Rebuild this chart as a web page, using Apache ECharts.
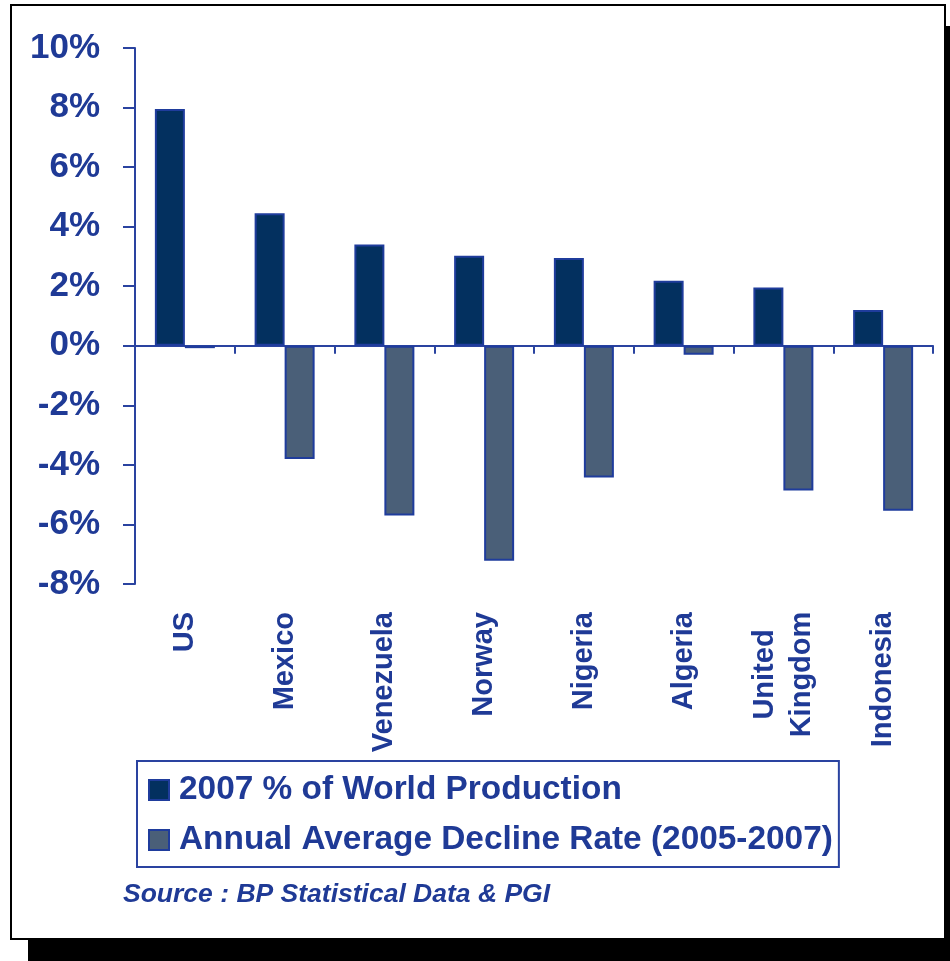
<!DOCTYPE html>
<html>
<head>
<meta charset="utf-8">
<script src="https://cdn.jsdelivr.net/npm/echarts@6/dist/echarts.min.js"></script>
<style>
html,body{margin:0;padding:0;background:#fff;width:950px;height:961px;overflow:hidden;}
#frame{position:absolute;left:10px;top:4px;width:932px;height:932px;border:2px solid #000;box-shadow:18px 22px 0 #000;background:#fff;}
#chart{position:absolute;left:0;top:0;width:950px;height:961px;}
</style>
</head>
<body>
<div id="frame"></div>
<div id="chart"></div>
<script>
const categories = ['US','Mexico','Venezuela','Norway','Nigeria','Algeria','United\nKingdom','Indonesia'];
const seriesNames = ['2007 % of World Production','Annual Average Decline Rate (2005-2007)'];
const production = [7.95, 4.45, 3.4, 3.02, 2.95, 2.18, 1.96, 1.2];
const decline = [-0.08, -3.8, -5.7, -7.22, -4.42, -0.3, -4.86, -5.54];
const yTicks = {min: -8, max: 10, interval: 2};
const sourceText = 'Source : BP Statistical Data & PGI';

const BLUE = '#1f3a96';
const AXIS = '#2a43a0';
const FONT = '"Liberation Sans", Arial, Helvetica, sans-serif';

const chart = echarts.init(document.getElementById('chart'), null, {renderer: 'canvas'});
chart.setOption({
  backgroundColor: 'transparent',
  animation: false,
  title: {
    text: sourceText,
    left: 118, top: 876,
    textStyle: {fontFamily: FONT, fontSize: 26.5, fontStyle: 'italic', fontWeight: 'bold', color: BLUE}
  },
  grid: {left: 135, right: 17, top: 48, bottom: 377, containLabel: false},
  legend: {
    orient: 'vertical',
    left: 137, top: 761,
    icon: 'rect',
    itemWidth: 20, itemHeight: 20,
    itemGap: 10,
    padding: [9, 6, 7, 11],
    borderColor: AXIS, borderWidth: 2,
    textStyle: {fontFamily: FONT, fontSize: 33.4, fontWeight: 'bold', color: BLUE, lineHeight: 40, padding: [0,0,0,5]},
    data: seriesNames
  },
  xAxis: [
    {
      type: 'category', data: categories,
      axisLine: {onZero: true, lineStyle: {color: AXIS, width: 2}},
      axisTick: {show: true, length: 8, lineStyle: {color: AXIS, width: 2}},
      axisLabel: {show: false}
    },
    {
      type: 'category', data: categories, position: 'bottom',
      axisLine: {show: false, onZero: false}, axisTick: {show: false},
      axisLabel: {
        rotate: 90, margin: 28, interval: 0,
        fontFamily: FONT, fontSize: 29, fontWeight: 'bold', color: BLUE, lineHeight: 37,
        formatter: function (v) {
          if (v.indexOf('\n') >= 0) {
            return v.split('\n').map(s => '{c|' + s + '}').join('\n');
          }
          return v;
        },
        rich: {c: {width: 125, align: 'center', fontFamily: FONT, fontSize: 29, fontWeight: 'bold', color: BLUE, lineHeight: 37}}
      }
    }
  ],
  yAxis: {
    type: 'value', min: yTicks.min, max: yTicks.max, interval: yTicks.interval,
    axisLine: {show: true, lineStyle: {color: AXIS, width: 2}},
    axisTick: {show: true, length: 12, lineStyle: {color: AXIS, width: 2}},
    splitLine: {show: false},
    axisLabel: {formatter: '{value}%', margin: 35, fontFamily: FONT, fontSize: 35, fontWeight: 'bold', color: BLUE}
  },
  series: [
    {
      name: seriesNames[0], type: 'bar', data: production, barWidth: 30, barGap: '0%',
      itemStyle: {color: '#03305f', borderColor: '#1f3c9c', borderWidth: 2}
    },
    {
      name: seriesNames[1], type: 'bar', data: decline, barWidth: 30, barGap: '0%',
      itemStyle: {color: '#4a5f78', borderColor: '#1f3c9c', borderWidth: 2}
    }
  ]
});
</script>
</body>
</html>
